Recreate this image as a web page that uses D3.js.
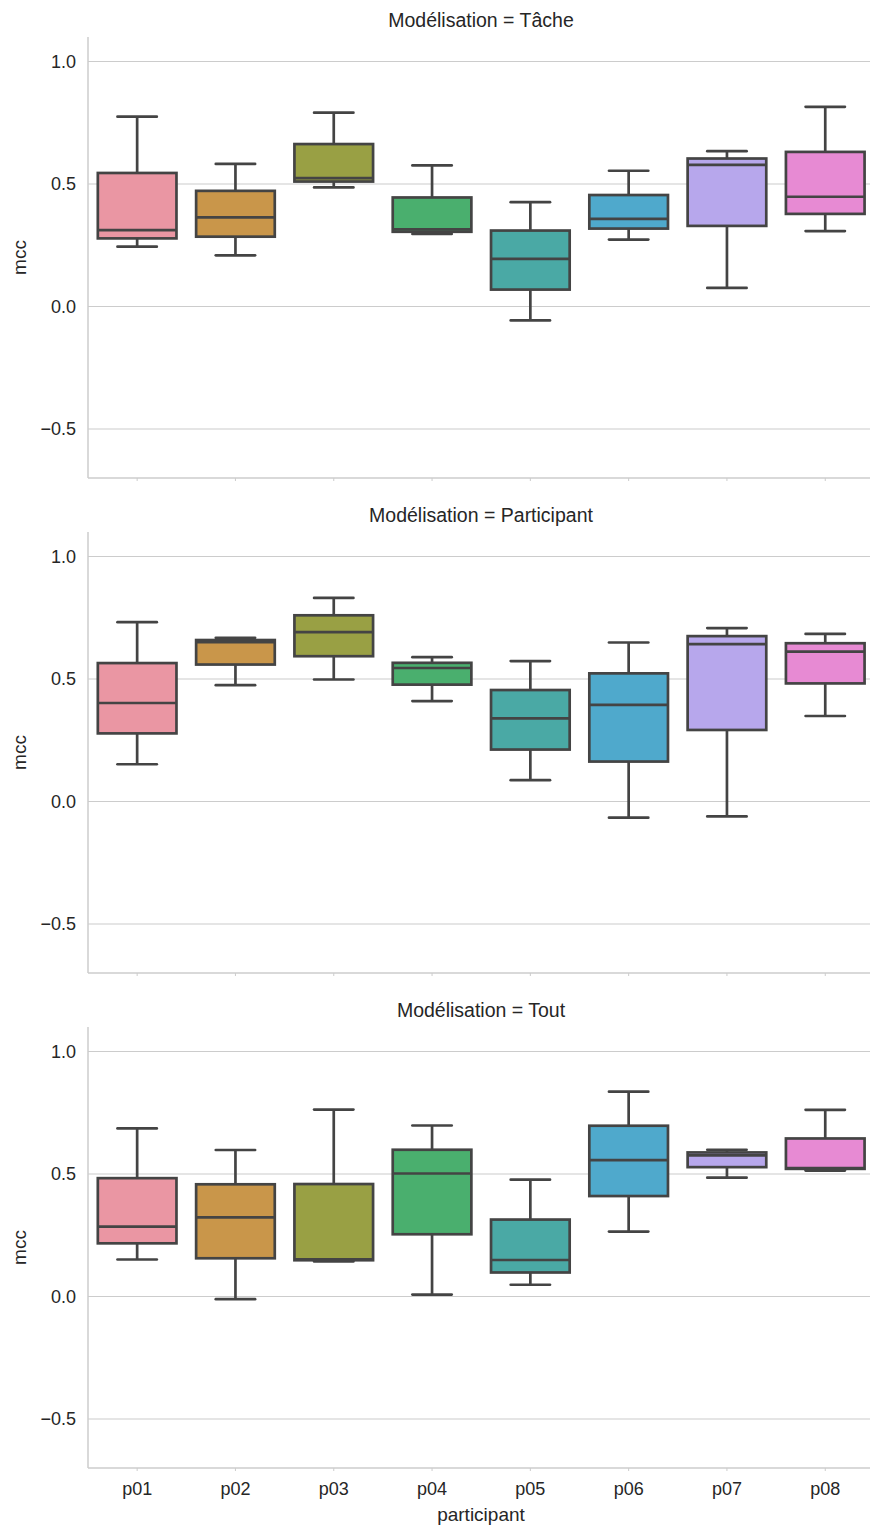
<!DOCTYPE html>
<html>
<head>
<meta charset="utf-8">
<script src="https://cdn.jsdelivr.net/npm/d3@7"></script>
<style>
  body { margin: 0; background: #fff; }
  text { font-family: "Liberation Sans", Arial, sans-serif; fill: #262626; }
</style>
</head>
<body>
<div id="chart"></div>
<script>
// categories
const participants = ['p01', 'p02', 'p03', 'p04', 'p05', 'p06', 'p07', 'p08'];
const panelTitles = ['Modélisation = Tâche', 'Modélisation = Participant', 'Modélisation = Tout'];
const yTicks = [-0.5, 0.0, 0.5, 1.0];

// box stats per participant: [whisker low, q1, median, q3, whisker high]
const tacheStats = [
  [0.244, 0.278, 0.312, 0.545, 0.775],
  [0.209, 0.285, 0.364, 0.472, 0.582],
  [0.486, 0.510, 0.524, 0.663, 0.791],
  [0.296, 0.305, 0.315, 0.445, 0.576],
  [-0.057, 0.069, 0.194, 0.310, 0.426],
  [0.273, 0.318, 0.358, 0.455, 0.554],
  [0.076, 0.329, 0.578, 0.604, 0.634],
  [0.308, 0.378, 0.448, 0.631, 0.815],
];
const participantStats = [
  [0.152, 0.278, 0.402, 0.565, 0.732],
  [0.475, 0.559, 0.650, 0.659, 0.668],
  [0.498, 0.593, 0.691, 0.760, 0.831],
  [0.410, 0.477, 0.545, 0.566, 0.589],
  [0.087, 0.212, 0.339, 0.455, 0.573],
  [-0.066, 0.163, 0.394, 0.523, 0.649],
  [-0.061, 0.292, 0.642, 0.675, 0.708],
  [0.349, 0.482, 0.612, 0.646, 0.684],
];
const toutStats = [
  [0.151, 0.217, 0.285, 0.483, 0.686],
  [-0.011, 0.156, 0.323, 0.458, 0.598],
  [0.143, 0.148, 0.152, 0.459, 0.763],
  [0.008, 0.254, 0.502, 0.599, 0.698],
  [0.048, 0.098, 0.149, 0.314, 0.477],
  [0.265, 0.410, 0.557, 0.697, 0.836],
  [0.485, 0.528, 0.576, 0.588, 0.599],
  [0.514, 0.521, 0.524, 0.645, 0.762],
];
const panelStats = [tacheStats, participantStats, toutStats];

const boxColors = ['#ea96a3', '#c9964a', '#99a044', '#4aaf6e', '#4aa9a5', '#4fa9cc', '#b7a7ec', '#e78ad3'];
const lineColor = '#444444';
const gridColor = '#cccccc';

const width = 870;
const height = 1526;
const margin = { left: 88 };
const plotWidth = 786.4;
const plotHeight = 441;
const panelTops = [37, 532, 1027];

const svg = d3.select('#chart').append('svg')
  .attr('width', width)
  .attr('height', height);

const x = d3.scaleBand()
  .domain(participants)
  .range([margin.left, margin.left + plotWidth])
  .padding(0);

const boxW = x.bandwidth() * 0.8;
const capW = boxW * 0.5;

panelStats.forEach((stats, i) => {
  const top = panelTops[i];
  const y = d3.scaleLinear()
    .domain([-0.7, 1.1])
    .range([top + plotHeight, top]);

  const g = svg.append('g');

  // grid lines
  g.append('g').selectAll('line')
    .data(yTicks)
    .enter()
    .append('line')
    .attr('x1', margin.left)
    .attr('x2', margin.left + plotWidth)
    .attr('y1', (d) => y(d))
    .attr('y2', (d) => y(d))
    .attr('stroke', gridColor)
    .attr('stroke-width', 1.2);

  // y axis labels
  g.append('g').selectAll('text')
    .data(yTicks)
    .enter()
    .append('text')
    .attr('x', margin.left - 12)
    .attr('y', (d) => y(d))
    .attr('dy', '0.35em')
    .attr('text-anchor', 'end')
    .style('font-size', '18px')
    .text((d) => d3.format('.1f')(d).replace('-', '\u2212'));

  // spines
  g.append('line')
    .attr('x1', margin.left).attr('x2', margin.left)
    .attr('y1', top).attr('y2', top + plotHeight)
    .attr('stroke', gridColor).attr('stroke-width', 1.5);
  g.append('line')
    .attr('x1', margin.left).attr('x2', margin.left + plotWidth)
    .attr('y1', top + plotHeight).attr('y2', top + plotHeight)
    .attr('stroke', gridColor).attr('stroke-width', 1.5);

  // x ticks
  g.append('g').selectAll('line')
    .data(participants)
    .enter()
    .append('line')
    .attr('x1', (d) => x(d) + x.bandwidth() / 2)
    .attr('x2', (d) => x(d) + x.bandwidth() / 2)
    .attr('y1', top + plotHeight)
    .attr('y2', top + plotHeight + 3)
    .attr('stroke', gridColor);

  // title
  g.append('text')
    .attr('x', margin.left + (874 - margin.left) / 2)
    .attr('y', top - 10)
    .attr('text-anchor', 'middle')
    .style('font-size', '19.5px')
    .text(panelTitles[i]);

  // y label
  g.append('text')
    .attr('transform', `translate(26,${y(0.2)}) rotate(-90)`)
    .attr('text-anchor', 'middle')
    .style('font-size', '19px')
    .text('mcc');

  // boxes
  const boxes = g.append('g').selectAll('g')
    .data(stats)
    .enter()
    .append('g')
    .attr('transform', (d, j) => `translate(${x(participants[j]) + x.bandwidth() / 2},0)`);

  boxes.append('line')
    .attr('x1', 0).attr('x2', 0)
    .attr('y1', (d) => y(d[0]))
    .attr('y2', (d) => y(d[4]))
    .attr('stroke', lineColor)
    .attr('stroke-width', 2.7);

  boxes.selectAll('.cap')
    .data((d) => [d[0], d[4]])
    .enter()
    .append('line')
    .attr('class', 'cap')
    .attr('x1', -capW / 2).attr('x2', capW / 2)
    .attr('y1', (v) => y(v)).attr('y2', (v) => y(v))
    .attr('stroke', lineColor)
    .attr('stroke-width', 2.7)
    .attr('stroke-linecap', 'round');

  boxes.append('rect')
    .attr('x', -boxW / 2)
    .attr('width', boxW)
    .attr('y', (d) => y(d[3]))
    .attr('height', (d) => y(d[1]) - y(d[3]))
    .attr('fill', (d, j) => boxColors[j])
    .attr('stroke', lineColor)
    .attr('stroke-width', 2.7);

  boxes.append('line')
    .attr('x1', -boxW / 2).attr('x2', boxW / 2)
    .attr('y1', (d) => y(d[2]))
    .attr('y2', (d) => y(d[2]))
    .attr('stroke', lineColor)
    .attr('stroke-width', 2.7);

  // x tick labels on the last panel only
  if (i === panelStats.length - 1) {
    g.append('g').selectAll('text')
      .data(participants)
      .enter()
      .append('text')
      .attr('x', (d) => x(d) + x.bandwidth() / 2)
      .attr('y', top + plotHeight + 27)
      .attr('text-anchor', 'middle')
      .style('font-size', '18px')
      .text((d) => d);

    g.append('text')
      .attr('x', margin.left + (874 - margin.left) / 2)
      .attr('y', top + plotHeight + 53)
      .attr('text-anchor', 'middle')
      .style('font-size', '19px')
      .text('participant');
  }
});
</script>
</body>
</html>
